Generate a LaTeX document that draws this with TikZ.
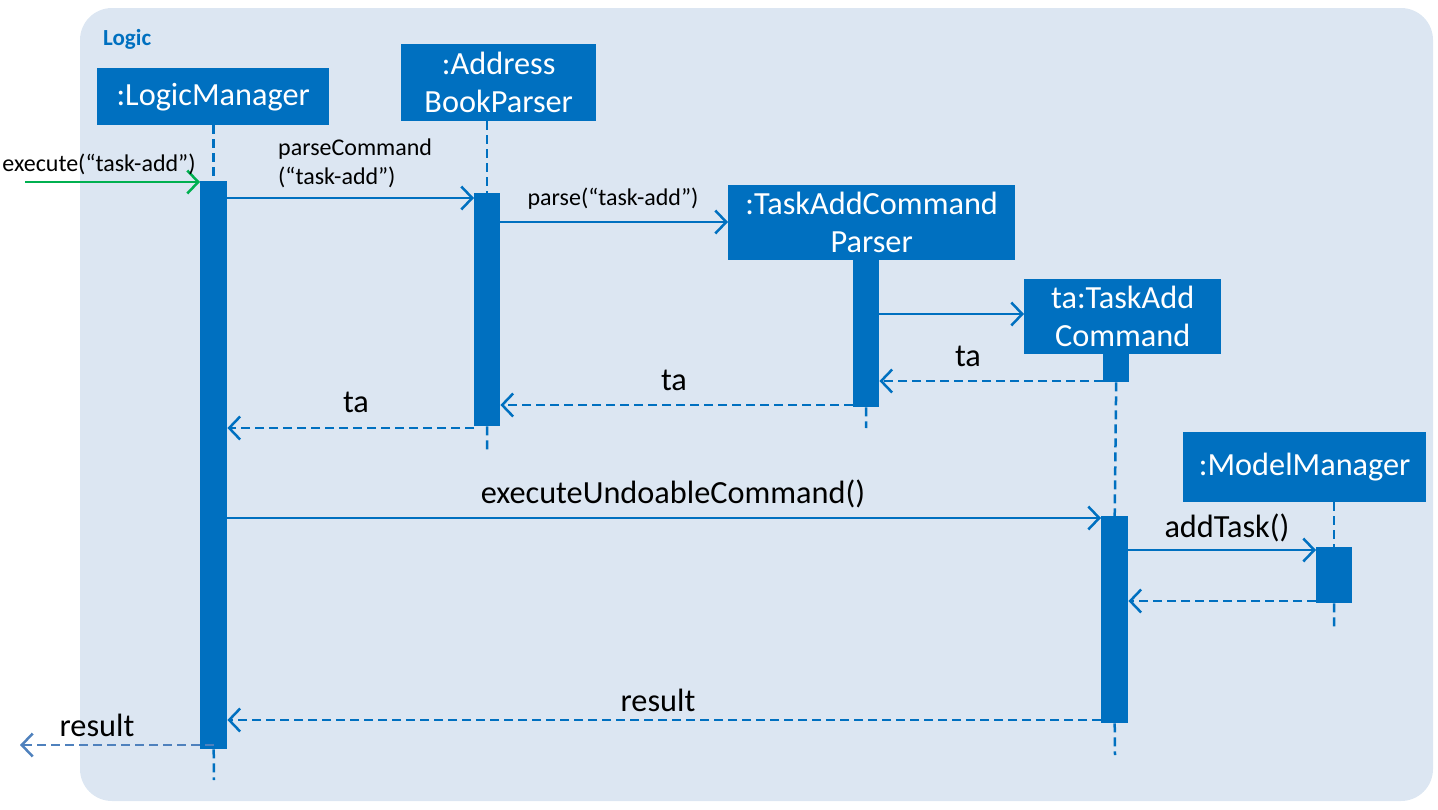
\documentclass[tikz,border=0pt]{standalone}
\usepackage{fontspec}
\setmainfont{Carlito}
\usetikzlibrary{arrows.meta}
\definecolor{bgc}{HTML}{DCE6F2}
\definecolor{boxc}{HTML}{0070C0}
\definecolor{grn}{HTML}{00B050}
\definecolor{resc}{HTML}{4F81BD}
\begin{document}
\begin{tikzpicture}[x=1pt,y=-1pt,
  obj/.style={fill=boxc, text=white, font=\fontsize{32.3}{38}\selectfont, align=center, inner sep=0pt, anchor=north west},
  act/.style={fill=boxc, inner sep=0pt, anchor=north west},
  life/.style={draw=boxc, line width=2.5pt, dash pattern=on 9pt off 5pt},
  msg/.style={draw=boxc, line width=2.5pt, -{Straight Barb[length=11pt,width=23pt]}},
  ret/.style={msg, dash pattern=on 9pt off 5pt},
  big/.style={font=\fontsize{32.3}{38}\selectfont, anchor=base, inner sep=0pt},
  small/.style={font=\fontsize{24}{29}\selectfont, anchor=base, inner sep=0pt, align=left}]
\useasboundingbox (0,0) rectangle (1438,809);
\fill[bgc, rounded corners=32pt] (80,8) rectangle (1433,801);
\node[anchor=base west, inner sep=0pt, text=boxc, font=\fontsize{23}{28}\selectfont\bfseries] (title) at (103,45) {Logic};
% objects
\node[obj, minimum width=232, minimum height=57] (lm) at (97,68) {:LogicManager};
\node[obj, minimum width=195, minimum height=77] (abp) at (401,44) {:Address\\BookParser};
\node[obj, minimum width=287, minimum height=75] (tacp) at (728,185) {:TaskAddCommand\\Parser};
\node[obj, minimum width=197, minimum height=75] (tac) at (1024,279) {ta:TaskAdd\\Command};
\node[obj, minimum width=243, minimum height=70] (mm) at (1183,432) {:ModelManager};
% activations
\node[act, minimum width=27, minimum height=568] (a1) at (200,181) {};
\node[act, minimum width=26, minimum height=233] (a2) at (474,193) {};
\node[act, minimum width=26, minimum height=147] (a3) at (853,260) {};
\node[act, minimum width=26, minimum height=28] (a4) at (1103,354) {};
\node[act, minimum width=27, minimum height=207] (a5) at (1101,516) {};
\node[act, minimum width=36, minimum height=56] (a6) at (1316,547) {};
% lifeline ends
\coordinate (e1) at (214,780);
\coordinate (e2) at (487,450);
\coordinate (e3) at (866,428);
\coordinate (e5) at (1115,755);
\coordinate (e6) at (1334,630);
\coordinate (src) at (25,182);
\coordinate (snk) at (20,745);
% lifelines
\draw[life] (a1.north |- lm.south) -- (a1.north);
\draw[life] (a1.south) -- (e1);
\draw[life] (a2.north |- abp.south) -- (a2.north);
\draw[life] (a2.south) -- (e2);
\draw[life] (a3.south) -- (e3);
\draw[life] (a4.south) -- (a5.north);
\draw[life] (a5.south) -- (e5);
\draw[life] (a6.north |- mm.south) -- (a6.north);
\draw[life] (a6.south) -- (e6);
% messages
\draw[msg, draw=grn] (src) -- (a1.west |- src);
\node[small] (l0) at (99,171) {execute(“task-add”)};
\draw[msg] (a1.east |- 0,198) -- (a2.west |- 0,198);
\node[small, anchor=base west] (l1) at (278,184) {parseCommand\\(“task-add”)};
\draw[msg] (a2.east |- 0,222) -- (tacp.west |- 0,222);
\node[small] (l2) at (613,205) {parse(“task-add”)};
\draw[msg] (a3.east |- 0,314) -- (tac.west |- 0,314);
\draw[ret] (a4.west |- 0,381) -- (a3.east |- 0,381);
\node[big] (l3) at (968,366) {ta};
\draw[ret] (a3.west |- 0,405) -- (a2.east |- 0,405);
\node[big] (l4) at (674,390) {ta};
\draw[ret] (a2.west |- 0,428) -- (a1.east |- 0,428);
\node[big] (l5) at (356,412) {ta};
\draw[msg] (a1.east |- 0,518) -- (a5.west |- 0,518);
\node[big] (l6) at (673,503) {executeUndoableCommand()};
\draw[msg] (a5.east |- 0,550) -- (a6.west |- 0,550);
\node[big] (l7) at (1227,537) {addTask()};
\draw[ret] (a6.west |- 0,601) -- (a5.east |- 0,601);
\draw[ret] (a5.west |- 0,720) -- (a1.east |- 0,720);
\node[big] (l8) at (658,711) {result};
\draw[ret, draw=resc] (a1.center |- snk) -- (snk);
\node[big] (l9) at (97,736) {result};
\end{tikzpicture}
\end{document}
